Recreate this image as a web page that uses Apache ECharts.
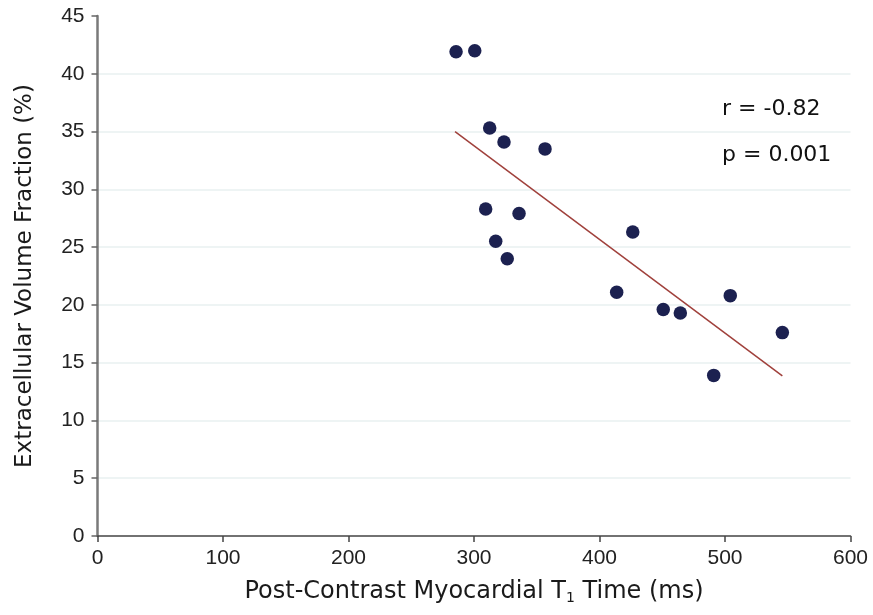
<!DOCTYPE html>
<html>
<head>
<meta charset="utf-8">
<script src="https://cdn.jsdelivr.net/npm/echarts@6/dist/echarts.min.js"></script>
<style>html,body{margin:0;padding:0;background:#fff}#c{width:873px;height:615px}</style>
</head>
<body>
<div id="c"></div>
<script>
const t1Times = [285.7, 300.6, 312.5, 323.9, 356.6, 309.3, 335.9, 317.3, 326.5, 426.5, 413.7, 450.8, 464.4, 504.2, 491.0, 545.7];
const ecvValues = [41.9, 42.0, 35.3, 34.1, 33.5, 28.3, 27.9, 25.5, 24.0, 26.3, 21.1, 19.6, 19.3, 20.8, 13.9, 17.6];
const fitX = [284.9, 545.7];
const fitY = [35.0, 13.85];
const xTicks = [0, 100, 200, 300, 400, 500, 600];
const yTicks = [0, 5, 10, 15, 20, 25, 30, 35, 40, 45];
const statsText = ['r = -0.82', 'p = 0.001'];

const FONT = '"Liberation Sans", Arial, Helvetica, sans-serif';
const TFONT = '"DejaVu Sans", "Liberation Sans", Arial, sans-serif';
const chart = echarts.init(document.getElementById('c'), null, {renderer: 'canvas'});
chart.setOption({
  backgroundColor: '#ffffff',
  animation: false,
  grid: {left: 97.5, right: 22.5, top: 16, bottom: 79, containLabel: false},
  xAxis: {
    type: 'value', min: xTicks[0], max: xTicks[xTicks.length - 1], interval: 100,
    name: 'Post-Contrast Myocardial T{sub|1} Time (ms)',
    nameLocation: 'middle', nameGap: 43,
    nameTextStyle: {fontFamily: TFONT, fontSize: 24, color: '#1a1a1a',
      rich: {sub: {fontFamily: TFONT, fontSize: 14, color: '#1a1a1a', verticalAlign: 'bottom', padding: [12, 0, 0, 0]}}},
    axisLine: {show: true, lineStyle: {color: '#444', width: 1.5}},
    axisTick: {show: true, length: 6, lineStyle: {color: '#444', width: 1.5}},
    axisLabel: {fontFamily: FONT, fontSize: 21, color: '#222', margin: 12},
    splitLine: {show: false}
  },
  yAxis: {
    type: 'value', min: yTicks[0], max: yTicks[yTicks.length - 1], interval: 5,
    name: 'Extracellular Volume Fraction (%)',
    nameLocation: 'middle', nameGap: 61,
    nameTextStyle: {fontFamily: TFONT, fontSize: 23, color: '#1a1a1a'},
    axisLine: {show: true, lineStyle: {color: '#7a7a7a', width: 2.5}},
    axisTick: {show: true, length: 6, lineStyle: {color: '#666', width: 1.5}},
    axisLabel: {fontFamily: FONT, fontSize: 21, color: '#222', margin: 13},
    splitLine: {show: true, showMinLine: false, showMaxLine: false, lineStyle: {color: '#e9f0f0', width: 1.5}}
  },
  series: [
    {
      type: 'line', data: fitX.map((x, i) => [x, fitY[i]]),
      showSymbol: false, symbol: 'none',
      lineStyle: {color: '#a0413c', width: 1.5}, z: 2
    },
    {
      type: 'scatter', data: t1Times.map((x, i) => [x, ecvValues[i]]),
      symbol: 'circle', symbolSize: 13.5,
      itemStyle: {color: '#1c2150', opacity: 1}, z: 3
    }
  ],
  graphic: [
    {type: 'text', x: 722, y: 109, style: {text: statsText[0], font: '22px ' + TFONT, fill: '#111', verticalAlign: 'middle'}},
    {type: 'text', x: 722, y: 155, style: {text: statsText[1], font: '22px ' + TFONT, fill: '#111', verticalAlign: 'middle'}}
  ]
});
</script>
</body>
</html>
